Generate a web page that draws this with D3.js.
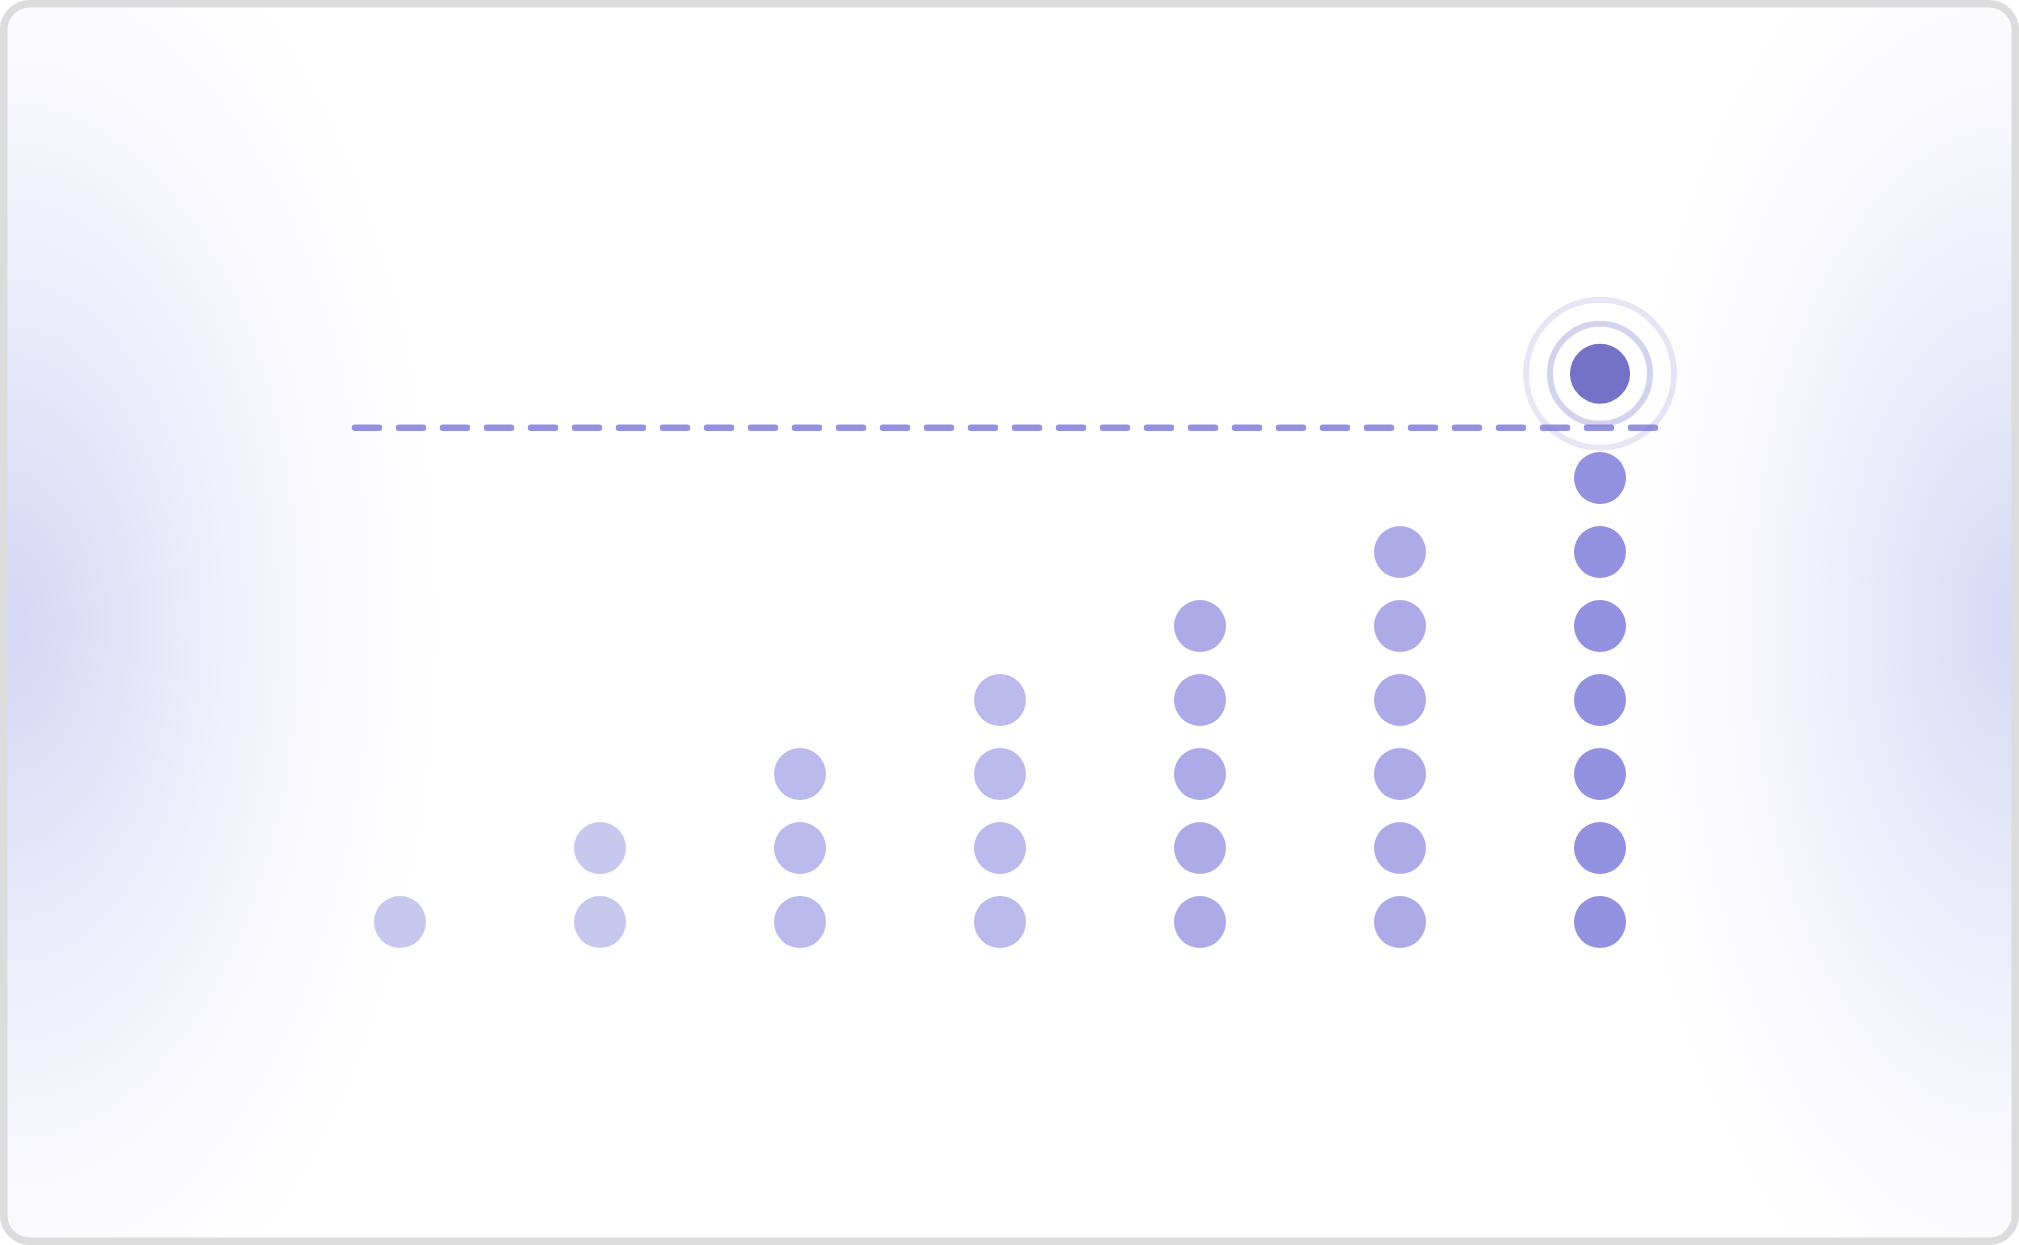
<!DOCTYPE html>
<html>
<head>
<meta charset="utf-8">
<script src="https://cdn.jsdelivr.net/npm/d3@7"></script>
<style>
  html, body { margin: 0; padding: 0; background: #ffffff; overflow: hidden; }
  svg { display: block; }
</style>
</head>
<body>
<svg id="chart" width="2019" height="1245"></svg>
<script>
// ---- data ----
const categories = ["P1", "P2", "P3", "P4", "P5", "P6", "P7"];
const dotCounts = [1, 2, 3, 4, 5, 6, 7];
const dotColors = ["#c8c8ef", "#c8c8ef", "#bcbaed", "#bcbaed", "#aeaae8", "#aeaae8", "#9290df"];
const targetLevel = 7.68;
const highlightCategory = "P7";
const highlightLevel = 8.41;

// ---- setup ----
const W = 2019, H = 1245;
const svg = d3.select("#chart");
const defs = svg.append("defs");

const x = d3.scalePoint().domain(categories).range([400, 1600]);
const y = d3.scaleLinear().domain([1, 8]).range([922, 404]);

// background glows
function glow(id, color, op) {
  const g = defs.append("radialGradient").attr("id", id);
  const stops = [[0, 1], [0.25, 0.68], [0.5, 0.36], [0.75, 0.12], [1, 0]];
  stops.forEach(([o, a]) => g.append("stop").attr("offset", o).attr("stop-color", color).attr("stop-opacity", a * op));
}
glow("gL", "rgb(128,128,224)", 0.33);
glow("gR", "rgb(128,128,224)", 0.31);

defs.append("clipPath").attr("id", "inner")
  .append("rect").attr("x", 7).attr("y", 7).attr("width", W - 14).attr("height", H - 14).attr("rx", 23);

const bg = svg.append("g").attr("clip-path", "url(#inner)");
bg.append("rect").attr("width", W).attr("height", H).attr("fill", "#ffffff");
bg.append("ellipse").attr("cx", 8).attr("cy", H / 2).attr("rx", 440).attr("ry", 780).attr("fill", "url(#gL)");
bg.append("ellipse").attr("cx", W - 8).attr("cy", H / 2).attr("rx", 400).attr("ry", 760).attr("fill", "url(#gR)");

// border
svg.append("rect")
  .attr("x", 3.75).attr("y", 3.75).attr("width", W - 7.5).attr("height", H - 7.5)
  .attr("rx", 26).attr("fill", "none").attr("stroke", "#dcdcdc").attr("stroke-width", 7.5);

// dots
const dots = [];
categories.forEach((c, i) => {
  d3.range(1, dotCounts[i] + 1).forEach(k => dots.push({ c, k, color: dotColors[i] }));
});
svg.append("g").selectAll("circle").data(dots).join("circle")
  .attr("cx", d => x(d.c)).attr("cy", d => y(d.k)).attr("r", 26).attr("fill", d => d.color);

// target dashed line
svg.append("line")
  .attr("x1", x(categories[0]) - 45).attr("x2", x(categories[categories.length - 1]) + 55)
  .attr("y1", y(targetLevel)).attr("y2", y(targetLevel))
  .attr("stroke", "#9492e0").attr("stroke-width", 6.5)
  .attr("stroke-linecap", "round").attr("stroke-dasharray", "24 20");

// highlighted point
const hx = x(highlightCategory), hy = y(highlightLevel);
svg.append("circle").attr("cx", hx).attr("cy", hy).attr("r", 74)
  .attr("fill", "none").attr("stroke", "rgba(116,114,200,0.18)").attr("stroke-width", 6);
svg.append("circle").attr("cx", hx).attr("cy", hy).attr("r", 50)
  .attr("fill", "none").attr("stroke", "rgba(116,114,200,0.31)").attr("stroke-width", 6);
svg.append("circle").attr("cx", hx).attr("cy", hy).attr("r", 30).attr("fill", "#7472c8");
</script>
</body>
</html>
